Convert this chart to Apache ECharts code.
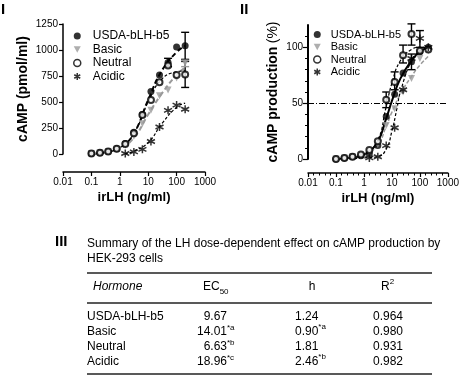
<!DOCTYPE html>
<html>
<head>
<meta charset="utf-8">
<script src="https://cdn.jsdelivr.net/npm/echarts@6/dist/echarts.min.js"></script>
<style>
html, body { margin: 0; padding: 0; background: #fff; }
#main { width: 462px; height: 376px; }
</style>
</head>
<body>
<div id="main"></div>
<script>
// doses (irLH, ng/ml)
var doses = [0.1, 0.2, 0.39, 0.78, 1.56, 3.13, 6.25, 12.5, 25, 50, 100, 200];
var acidicDoses = [1.56, 3.13, 6.25, 12.5, 25, 50, 100, 200];
var hormones = ['USDA-bLH-b5', 'Basic', 'Neutral', 'Acidic'];

// panel I - cAMP (pmol/ml)
var usdaPmol = [5, 12, 25, 50, 100, 210, 380, 600, 760, 880, 1030, 1040];
var basicPmol = [5, 10, 22, 45, 85, 170, 290, 420, 560, 615, 730, 875];
var neutralPmol = [5, 12, 25, 50, 95, 200, 375, 520, 690, 850, 760, 765];
var acidicPmol = [5, 20, 45, 120, 260, 420, 470, 430];
// fitted curves
var fitDosesI = [0.1, 0.3, 1, 3, 10, 30, 100, 200];
var usdaFitPmol = [0, 15, 60, 190, 520, 800, 980, 1040];
var basicFitPmol = [0, 15, 55, 150, 380, 580, 760, 830];
var neutralFitPmol = [0, 15, 60, 190, 500, 720, 790, 800];
var acidicFitDoses = [1.5, 3, 10, 30, 100, 200];
var acidicFitPmol = [0, 25, 110, 290, 450, 490];
// error bars [dose, low, high]
var errUsdaI = [[200, 910, 1170], [50, 840, 920]];
var errNeutralI = [[200, 640, 890]];
var errBasicI = [[200, 840, 900]];

// panel II - cAMP production (%)
var usdaPct = [0, 1, 2, 3, 5, 12, 38, 58, 77, 87, 96, 100];
var basicPct = [0, 1, 2, 3, 6, 13, 30, 45, 60, 72, 90, 97];
var neutralPct = [0, 1, 2, 4, 8, 16, 53, 69, 93, 112, 97, 98];
var acidicPct = [1, 2, 12, 28, 62, 90, 108, 100];
var fitDosesII = [0.1, 0.3, 1, 3, 6, 10, 20, 50, 100, 200];
var usdaFitPct = [0, 1, 4, 15, 35, 52, 72, 88, 96, 100];
var basicFitPct = [0, 1, 4, 12, 28, 42, 58, 74, 84, 92];
var neutralFitPct = [0, 1, 4, 16, 45, 68, 88, 98, 100, 100];
var acidicFitDoses2 = [0.3, 1, 3, 6, 10, 15, 20, 50, 100, 200];
var acidicFitPct = [0, 1, 2, 8, 25, 45, 60, 88, 97, 100];
var errNeutralII = [[6.25, 46, 60], [12.5, 62, 78], [25, 86, 102], [50, 102, 121]];
var errOtherII = [[100, 100, 115], [50, 80, 94]];
var halfLine = [50];

// panel III table
var tableHeader = ['Hormone', 'EC50', 'h', 'R2'];
var tableEC50 = ['9.67', '14.01', '6.63', '18.96'];
var tableEC50Sig = ['', '*a', '*b', '*c'];
var tableH = ['1.24', '0.90', '1.81', '2.46'];
var tableHSig = ['', '*a', '', '*b'];
var tableR2 = ['0.964', '0.980', '0.931', '0.982'];

var FONT = '"Liberation Sans", Arial, sans-serif';
var GRAY = '#9a9a9a';
var starPath = 'path://M5,0L5,10M0.7,2.5L9.3,7.5M0.7,7.5L9.3,2.5';
var downTri = 'path://M0,0L10,0L5,9Z';

function pairs (xs, ys) {
  return xs.map(function (x, i) { return [x, ys[i]]; });
}

var symbolStyle = {
  'USDA-bLH-b5': { symbol: 'circle', symbolSize: 7, itemStyle: { color: '#000' } },
  'Basic': { symbol: downTri, symbolSize: 7, itemStyle: { color: GRAY } },
  'Neutral': { symbol: 'emptyCircle', symbolSize: 6, itemStyle: { color: '#000', borderWidth: 1.5 } },
  'Acidic': { symbol: starPath, symbolSize: 8, itemStyle: { color: '#000', borderColor: '#000', borderWidth: 1.5 } }
};

function pointSeries (name, idx, data) {
  var s = symbolStyle[name];
  return {
    name: name, type: 'scatter', xAxisIndex: idx, yAxisIndex: idx, data: data,
    symbol: s.symbol, symbolSize: s.symbolSize,
    itemStyle: s.itemStyle, z: 5, silent: true
  };
}

function fitSeries (idx, data, color, width, dash) {
  return {
    type: 'line', xAxisIndex: idx, yAxisIndex: idx, data: data, smooth: true,
    showSymbol: false, silent: true, z: 3,
    lineStyle: { color: color, width: width, type: dash }
  };
}

function errSeries (idx, data, color) {
  return {
    type: 'custom', xAxisIndex: idx, yAxisIndex: idx, data: data, z: 4, silent: true,
    renderItem: function (params, api) {
      var top = api.coord([api.value(0), api.value(2)]);
      var bot = api.coord([api.value(0), api.value(1)]);
      var st = { stroke: color, lineWidth: 1.4 };
      return {
        type: 'group',
        children: [
          { type: 'line', shape: { x1: top[0], y1: top[1], x2: bot[0], y2: bot[1] }, style: st },
          { type: 'line', shape: { x1: top[0] - 4, y1: top[1], x2: top[0] + 4, y2: top[1] }, style: st },
          { type: 'line', shape: { x1: bot[0] - 4, y1: bot[1], x2: bot[0] + 4, y2: bot[1] }, style: st }
        ]
      };
    }
  };
}

function logLabel (v) { return String(+v.toPrecision(3)); }

function xAxisFor (idx, offset) {
  return {
    type: 'log', logBase: 10, gridIndex: idx, min: 0.01, max: 1000, offset: offset,
    name: 'irLH (ng/ml)', nameLocation: 'middle', nameGap: 19,
    nameTextStyle: { fontFamily: FONT, fontSize: 13, fontWeight: 'bold', color: '#000' },
    axisLine: { onZero: false, lineStyle: { color: '#000', width: 1.5 } },
    axisTick: { length: 4, lineStyle: { color: '#000', width: 1.2 } },
    axisLabel: { formatter: logLabel, margin: 5, fontFamily: FONT, fontSize: 10, color: '#000' },
    splitLine: { show: false }
  };
}

var graphics = [];
function addText (x, y, text, extra) {
  var style = { text: text, fill: '#000', fontFamily: FONT, fontSize: 12, verticalAlign: 'middle', align: 'left' };
  for (var k in extra) style[k] = extra[k];
  graphics.push({ type: 'text', x: x, y: y, style: style, silent: true });
}
function addRule (y, w) {
  graphics.push({ type: 'line', shape: { x1: 87, y1: y, x2: 432, y2: y }, style: { stroke: '#222', lineWidth: w }, silent: true });
}
var richSmall = {
  n: { fontFamily: FONT, fontSize: 12, lineHeight: 18, verticalAlign: 'middle' },
  sup: { fontFamily: FONT, fontSize: 8, lineHeight: 10, verticalAlign: 'top' },
  sub: { fontFamily: FONT, fontSize: 8, lineHeight: 10, verticalAlign: 'bottom' }
};

// panel labels
addText(1, 10, 'I', { fontSize: 15, fontWeight: 'bold' });
addText(240, 10, 'II', { fontSize: 15, fontWeight: 'bold', letterSpacing: -1 });
addText(55, 242, 'III', { fontSize: 15, fontWeight: 'bold', letterSpacing: -1 });
// table
addText(87, 244, 'Summary of the LH dose-dependent effect on cAMP production by', { letterSpacing: -0.3 });
addText(87, 259, 'HEK-293 cells', { letterSpacing: -0.3 });
addRule(273, 1.5);
addRule(303, 1.5);
addRule(374, 1.5);
addText(93, 287, tableHeader[0], { fontStyle: 'italic' });
addText(203, 287, '{n|EC}{sub|50}', { rich: richSmall });
addText(312, 287, tableHeader[2], { align: 'center' });
addText(381, 287, '{n|R}{sup|2}', { rich: richSmall });
var rowY = [317, 332, 347, 362];
hormones.forEach(function (h, i) {
  var y = rowY[i];
  addText(87, y, h, { letterSpacing: -0.3 });
  addText(227, y, tableEC50[i], { align: 'right' });
  if (tableEC50Sig[i]) addText(227, y - 4, tableEC50Sig[i], { fontSize: 8 });
  addText(295, y, '{n|' + tableH[i] + '}' + (tableHSig[i] ? '{sup|' + tableHSig[i] + '}' : ''), { rich: richSmall });
  addText(373, y, tableR2[i]);
});

var legendItems = [
  { name: 'USDA-bLH-b5', icon: 'circle', itemStyle: { color: '#000' } },
  { name: 'Basic', icon: downTri, itemStyle: { color: GRAY } },
  { name: 'Neutral', icon: 'circle', itemStyle: { color: '#fff', borderColor: '#000', borderWidth: 1.5 } },
  { name: 'Acidic', icon: starPath, itemStyle: { color: '#000', borderColor: '#000', borderWidth: 1.5 } }
];

var option = {
  animation: false,
  backgroundColor: '#fff',
  grid: [
    { left: 63, top: 24, width: 142, height: 130 },
    { left: 308, top: 25, width: 140, height: 134 }
  ],
  legend: [
    { data: legendItems, orient: 'vertical', itemWidth: 7, itemHeight: 7, selectedMode: false,
      left: 68, top: 25, itemGap: 1.5,
      textStyle: { fontFamily: FONT, color: '#000', fontSize: 12, padding: [0, 0, 0, 7] } },
    { data: legendItems, orient: 'vertical', itemWidth: 7, itemHeight: 7, selectedMode: false,
      left: 308, top: 24, itemGap: 1.5,
      textStyle: { fontFamily: FONT, color: '#000', fontSize: 11, padding: [0, 0, 0, 5] } }
  ],
  xAxis: [
    xAxisFor(0, 18),
    xAxisFor(1, 14),
    // minor tick overlay for panel II (log10 of dose)
    {
      type: 'value', gridIndex: 1, min: -2, max: 3, interval: 1, offset: 14, position: 'bottom',
      axisLine: { show: false, onZero: false }, axisLabel: { show: false },
      axisTick: { show: false },
      minorTick: { show: true, splitNumber: 5, length: 2.5, lineStyle: { color: '#000', width: 1 } },
      splitLine: { show: false }, minorSplitLine: { show: false }
    }
  ],
  yAxis: [
    {
      type: 'value', gridIndex: 0, min: 0, max: 1250, interval: 250,
      name: 'cAMP (pmol/ml)', nameLocation: 'middle', nameGap: 33,
      nameTextStyle: { fontFamily: FONT, fontSize: 14, fontWeight: 'bold', color: '#000' },
      axisLine: { show: true, onZero: false, lineStyle: { color: '#000', width: 1.5 } },
      axisTick: { show: true, length: 4, lineStyle: { color: '#000', width: 1.2 } },
      axisLabel: { margin: 5, fontFamily: FONT, fontSize: 10, color: '#000', formatter: function (v) { return String(v); } },
      splitLine: { show: false }
    },
    {
      type: 'value', gridIndex: 1, min: 0, max: 120, interval: 50, position: 'left',
      name: '{b|cAMP production} {r|(%)}', nameLocation: 'middle', nameGap: 28,
      nameTextStyle: {
        color: '#000',
        rich: {
          b: { fontFamily: FONT, fontSize: 14, fontWeight: 'bold', color: '#000' },
          r: { fontFamily: FONT, fontSize: 14, color: '#000' }
        }
      },
      axisLine: { show: true, onZero: false, lineStyle: { color: '#000', width: 2 } },
      axisTick: { show: true, length: 5, lineStyle: { color: '#000', width: 1.2 }, customValues: [0, 50, 100] },
      minorTick: { show: true, splitNumber: 5, length: 3, lineStyle: { color: '#000', width: 1 } },
      axisLabel: { margin: 5, fontFamily: FONT, fontSize: 10, color: '#000', customValues: [0, 50, 100] },
      splitLine: { show: false }, minorSplitLine: { show: false }
    }
  ],
  graphic: graphics,
  series: [
    fitSeries(0, pairs(fitDosesI, usdaFitPmol), '#000', 2, [5, 3]),
    fitSeries(0, pairs(fitDosesI, basicFitPmol), GRAY, 2, [5, 3]),
    fitSeries(0, pairs(fitDosesI, neutralFitPmol), '#000', 1.2, [3, 2]),
    fitSeries(0, pairs(acidicFitDoses, acidicFitPmol), '#000', 1.2, [3, 2]),
    errSeries(0, errUsdaI, '#000'),
    errSeries(0, errNeutralI, '#000'),
    errSeries(0, errBasicI, GRAY),
    pointSeries('USDA-bLH-b5', 0, pairs(doses, usdaPmol)),
    pointSeries('Basic', 0, pairs(doses, basicPmol)),
    pointSeries('Neutral', 0, pairs(doses, neutralPmol)),
    pointSeries('Acidic', 0, pairs(acidicDoses, acidicPmol)),

    fitSeries(1, pairs(fitDosesII, usdaFitPct), '#000', 2, 'solid'),
    fitSeries(1, pairs(fitDosesII, basicFitPct), GRAY, 1.5, [4, 2]),
    fitSeries(1, pairs(fitDosesII, neutralFitPct), '#000', 1.2, [3, 2]),
    fitSeries(1, pairs(acidicFitDoses2, acidicFitPct), '#000', 1.2, [3, 2]),
    errSeries(1, errNeutralII, '#000'),
    errSeries(1, errOtherII, '#000'),
    pointSeries('USDA-bLH-b5', 1, pairs(doses, usdaPct)),
    pointSeries('Basic', 1, pairs(doses, basicPct)),
    pointSeries('Neutral', 1, pairs(doses, neutralPct)),
    pointSeries('Acidic', 1, pairs(acidicDoses, acidicPct)),
    {
      type: 'line', xAxisIndex: 1, yAxisIndex: 1, data: [], silent: true,
      markLine: {
        silent: true, symbol: 'none', label: { show: false },
        lineStyle: { color: '#000', width: 1, type: [6, 2, 1, 2] },
        data: halfLine.map(function (v) { return { yAxis: v }; })
      }
    }
  ]
};

var chart = echarts.init(document.getElementById('main'), null, { renderer: 'canvas' });
chart.setOption(option);
</script>
</body>
</html>
